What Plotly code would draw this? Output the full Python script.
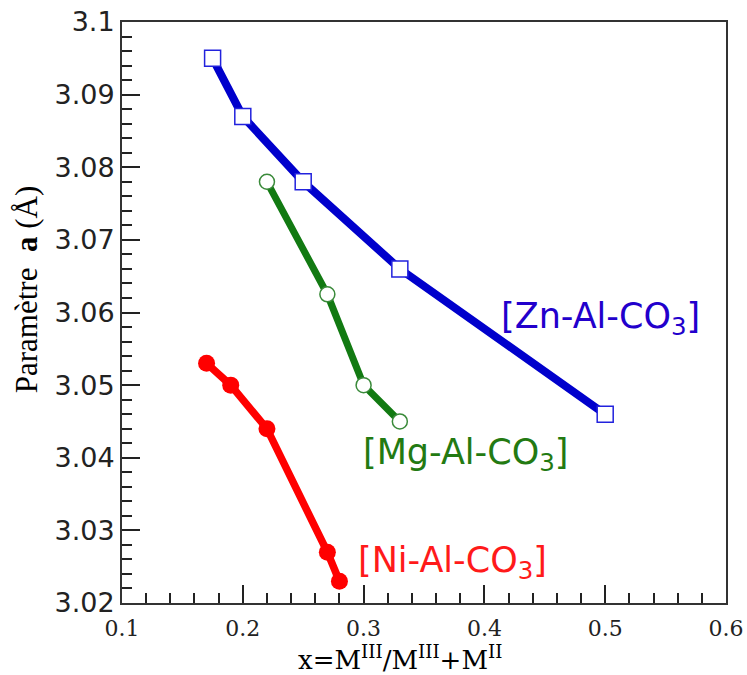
import plotly.graph_objects as go

zn_x = [0.175, 0.2, 0.25, 0.33, 0.5]
zn_y = [3.095, 3.087, 3.078, 3.066, 3.046]
mg_x = [0.22, 0.27, 0.30, 0.33]
mg_y = [3.078, 3.0625, 3.050, 3.045]
ni_x = [0.17, 0.19, 0.22, 0.27, 0.28]
ni_y = [3.053, 3.050, 3.044, 3.027, 3.023]

labels = ["[Zn-Al-CO<sub>3</sub>]", "[Mg-Al-CO<sub>3</sub>]", "[Ni-Al-CO<sub>3</sub>]"]
label_x = [0.412, 0.2975, 0.294]
label_y = [3.0592, 3.0404, 3.0256]

fig = go.Figure()
fig.add_trace(go.Scatter(x=zn_x, y=zn_y, mode="lines+markers",
    line=dict(color="#0000cc", width=8),
    marker=dict(symbol="square", size=16, color="white", line=dict(color="#2222dd", width=1.5))))
fig.add_trace(go.Scatter(x=mg_x, y=mg_y, mode="lines+markers",
    line=dict(color="#127a12", width=7),
    marker=dict(symbol="circle", size=15, color="white", line=dict(color="#3a8a3a", width=1.5))))
fig.add_trace(go.Scatter(x=ni_x, y=ni_y, mode="lines+markers",
    line=dict(color="#ff0000", width=7.5),
    marker=dict(symbol="circle", size=17, color="#ff0000", line=dict(width=0))))

colors = ["#2200cc", "#237a12", "#ff1a1a"]
for t, x, y, c in zip(labels, label_x, label_y, colors):
    fig.add_annotation(x=x, y=y, text=t, showarrow=False, xanchor="left", yanchor="middle",
                       font=dict(family="DejaVu Sans", size=35, color=c))

fig.add_annotation(xref="paper", yref="paper", x=-0.159, y=0.54, xanchor="center", yanchor="middle",
    text="Paramètre  <b>a</b> (Å)", textangle=-90, showarrow=False,
    font=dict(family="Liberation Serif, Times New Roman", size=31, color="black"))
fig.add_annotation(xref="paper", yref="paper", x=0.46, y=-0.095, xanchor="center",
    text="x=M<sup>III</sup>/M<sup>III</sup>+M<sup>II</sup>", showarrow=False, yanchor="middle",
    font=dict(family="DejaVu Serif", size=26, color="black"))

fig.update_xaxes(range=[0.1, 0.6], dtick=0.1, tick0=0.1, ticks="inside", ticklen=18,
    tickcolor="#222", tickwidth=1.5, showline=True, linecolor="#333", linewidth=2, mirror=True,
    showgrid=False, zeroline=False, tickformat=".1f", ticklabelstandoff=5,
    ticklabeloverflow="allow", automargin=False,
    tickfont=dict(family="DejaVu Serif", size=22, color="#222"),
    minor=dict(ticks="inside", ticklen=10, dtick=0.02, tickcolor="#222", tickwidth=1.5, showgrid=False))
fig.update_yaxes(range=[3.02, 3.1], dtick=0.01, tick0=3.02, ticks="inside", ticklen=18,
    tickcolor="#222", tickwidth=1.5, showline=True, linecolor="#333", linewidth=2, mirror=True,
    showgrid=False, zeroline=False, tickformat="~r", ticklabeloverflow="allow", automargin=False,
    tickfont=dict(family="DejaVu Sans", size=27, color="#222"),
    minor=dict(ticks="inside", ticklen=10, dtick=0.002, tickcolor="#222", tickwidth=1.5, showgrid=False))

fig.update_layout(width=747, height=675, margin=dict(l=122, r=21, t=22, b=72),
    plot_bgcolor="white", paper_bgcolor="white", showlegend=False)

fig.write_html("out.html", config={"displayModeBar": False},
    post_script="document.body.style.margin='0';document.body.style.overflow='hidden';")
